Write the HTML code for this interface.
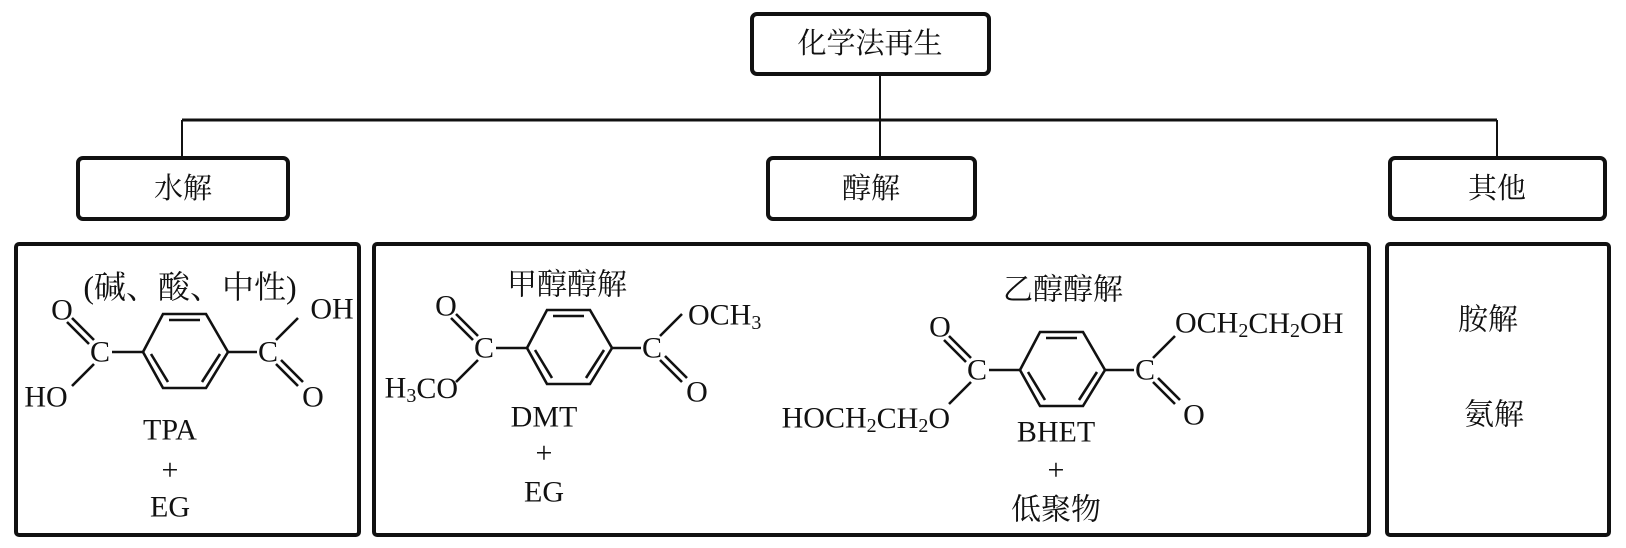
<!DOCTYPE html>
<html><head><meta charset="utf-8"><style>
html,body{margin:0;padding:0;background:#fff}
svg{display:block}
text{font-family:"Liberation Serif","Noto Serif CJK SC",serif;fill:#111;dominant-baseline:central}
.cj{font-family:"Liberation Serif","Noto Serif CJK SC","Noto Sans CJK SC",serif}
</style></head><body>
<svg width="1626" height="548" viewBox="0 0 1626 548" xmlns="http://www.w3.org/2000/svg">
<defs>
<g id="core" stroke="#111" stroke-width="2.6" fill="none">
<polygon points="143,352 163,314 206,314 228,352 206,388 163,388"/>
<line x1="169" y1="320" x2="200" y2="320"/>
<line x1="151" y1="354" x2="168" y2="382"/>
<line x1="220" y1="354" x2="202" y2="382"/>
<line x1="112" y1="352" x2="143" y2="352"/>
<line x1="228" y1="352" x2="257" y2="352"/>
<line x1="94" y1="340" x2="72" y2="318"/>
<line x1="89" y1="344" x2="67" y2="322"/>
<line x1="94" y1="364" x2="72" y2="386"/>
<line x1="276" y1="340" x2="298" y2="318"/>
<line x1="276" y1="364" x2="298" y2="386"/>
<line x1="281" y1="360" x2="303" y2="382"/>
</g>
</defs>
<g fill="none" stroke="#111">
<rect x="752" y="14" width="237" height="60" rx="5" stroke-width="4"/>
<rect x="78" y="158" width="210" height="61" rx="5" stroke-width="4"/>
<rect x="768" y="158" width="207" height="61" rx="5" stroke-width="4"/>
<rect x="1390" y="158" width="215" height="61" rx="5" stroke-width="4"/>
<line x1="880" y1="74" x2="880" y2="158" stroke-width="2"/>
<line x1="182" y1="120" x2="1497" y2="120" stroke-width="3"/>
<line x1="182" y1="120" x2="182" y2="158" stroke-width="2"/>
<line x1="1497" y1="120" x2="1497" y2="158" stroke-width="2"/>
<rect x="16" y="244" width="343" height="291" rx="3" stroke-width="4"/>
<rect x="374" y="244" width="995" height="291" rx="3" stroke-width="4"/>
<rect x="1387" y="244" width="222" height="291" rx="3" stroke-width="4"/>
</g>
<g font-size="29" text-anchor="middle" class="cj">
<text x="870" y="44">化学法再生</text>
<text x="183" y="189">水解</text>
<text x="871" y="189">醇解</text>
<text x="1497" y="189">其他</text>
<text x="190" y="287" font-size="32">(碱、酸、中性)</text>
<text x="567" y="285" font-size="30">甲醇醇解</text>
<text x="1063" y="290" font-size="30">乙醇醇解</text>
<text x="1488" y="320" font-size="30">胺解</text>
<text x="1494" y="415" font-size="30">氨解</text>
<text x="1056" y="510" font-size="30">低聚物</text>
</g>
<!-- TPA -->
<use href="#core"/>
<g font-size="30" text-anchor="middle">
<text x="100" y="352">C</text><text x="268" y="352">C</text>
<text x="62" y="310">O</text><text x="46" y="397">HO</text>
<text x="332" y="309">OH</text><text x="313" y="397">O</text>
<text x="170" y="430">TPA</text><text x="170" y="470">+</text><text x="170" y="507">EG</text>
</g>
<!-- DMT -->
<g transform="translate(384,-4)"><use href="#core"/></g>
<g font-size="30" text-anchor="middle">
<text x="484" y="348">C</text><text x="652" y="348">C</text>
<text x="446" y="306">O</text><text x="697" y="392">O</text>
<text x="544" y="417">DMT</text><text x="544" y="453">+</text><text x="544" y="492">EG</text>
<text x="1056" y="432">BHET</text><text x="1056" y="470">+</text>
</g>
<text x="458" y="388" font-size="30" text-anchor="end">H<tspan font-size="20" dy="8">3</tspan><tspan dy="-8">CO</tspan></text>
<text x="688" y="315" font-size="30">OCH<tspan font-size="20" dy="8">3</tspan></text>
<!-- BHET -->
<g transform="translate(877,18)"><use href="#core"/></g>
<g font-size="30" text-anchor="middle">
<text x="977" y="370">C</text><text x="1145" y="370">C</text>
<text x="940" y="327">O</text><text x="1194" y="415">O</text>
</g>
<text x="950" y="418" font-size="30" text-anchor="end">HOCH<tspan font-size="20" dy="8">2</tspan><tspan dy="-8">CH</tspan><tspan font-size="20" dy="8">2</tspan><tspan dy="-8">O</tspan></text>
<text x="1175" y="323" font-size="30">OCH<tspan font-size="20" dy="8">2</tspan><tspan dy="-8">CH</tspan><tspan font-size="20" dy="8">2</tspan><tspan dy="-8">OH</tspan></text>
</svg>
</body></html>
